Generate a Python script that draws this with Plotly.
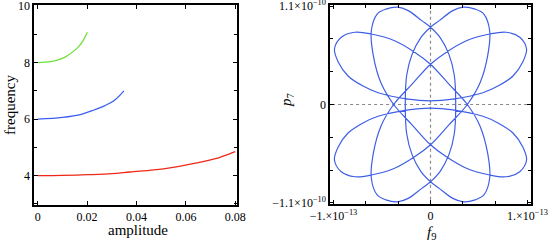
import plotly.graph_objects as go

# ---------------- data: left panel (frequency vs amplitude) ----------------
green_amp = [0.0, 0.0053, 0.010, 0.012, 0.016, 0.018, 0.0201]
green_freq = [8.0, 8.03, 8.15, 8.24, 8.51, 8.72, 9.07]

blue_amp = [0.0, 0.010, 0.018, 0.0221, 0.027, 0.031, 0.0349]
blue_freq = [6.0, 6.06, 6.18, 6.30, 6.47, 6.66, 7.0]

red_amp = [0.0, 0.010, 0.020, 0.030, 0.0374, 0.0509, 0.0644, 0.0720, 0.0779, 0.0800]
red_freq = [4.0, 4.01, 4.035, 4.07, 4.13, 4.24, 4.45, 4.60, 4.78, 4.85]

amp_ticks = [0, 0.02, 0.04, 0.06, 0.08]
amp_labels = ["0", "0.02", "0.04", "0.06", "0.08"]
freq_ticks = [4, 6, 8, 10]
freq_labels = ["4", "6", "8", "10"]
freq_minor = [3, 5, 7, 9]

# ---------------- data: right panel (f9 vs p7), in units of X_UNIT / Y_UNIT ----
X_UNIT = 1e-13
Y_UNIT = 1.1e-10
f9_u = [
    -0.99, -0.95, -0.85, -0.70, -0.54, -0.23, 0.0, 0.23, 0.54, 0.70, 0.85, 0.95, 0.99,
    0.92, 0.78, 0.61, 0.37, 0.16, 0.0, -0.19, -0.38, -0.51, -0.59, -0.61, -0.55, -0.46, -0.34,
    -0.23, -0.09, 0.0, 0.10, 0.19, 0.245, 0.26, 0.245, 0.19, 0.10, 0.0, -0.09, -0.23, -0.34,
    -0.46, -0.55, -0.61, -0.59, -0.51, -0.38, -0.19, 0.0, 0.16, 0.37, 0.61, 0.78, 0.92, 0.99,
    0.95, 0.85, 0.70, 0.54, 0.23, 0.0, -0.23, -0.54, -0.70, -0.85, -0.95, -0.99,
    -0.92, -0.78, -0.61, -0.37, -0.16, 0.0, 0.19, 0.38, 0.51, 0.59, 0.61, 0.55, 0.46, 0.34,
    0.23, 0.09, 0.0, -0.10, -0.19, -0.245, -0.26, -0.245, -0.19, -0.10, 0.0, 0.09, 0.23, 0.34,
    0.46, 0.55, 0.61, 0.59, 0.51, 0.38, 0.19, 0.0, -0.16, -0.37, -0.61, -0.78, -0.92, -0.99,
]
p7_v = [
    0.565, 0.43, 0.29, 0.19, 0.12, 0.054, 0.037, 0.054, 0.12, 0.19, 0.29, 0.43, 0.565,
    0.684, 0.735, 0.717, 0.649, 0.53, 0.41, 0.207, 0.0, -0.218, -0.5, -0.75, -0.92, -0.97, -0.99,
    -0.955, -0.853, -0.786, -0.68, -0.51, -0.3, 0.0, 0.3, 0.51, 0.68, 0.786, 0.853, 0.955, 0.99,
    0.97, 0.92, 0.75, 0.5, 0.218, 0.0, -0.207, -0.41, -0.53, -0.649, -0.717, -0.735, -0.684, -0.565,
    -0.43, -0.29, -0.19, -0.12, -0.054, -0.037, -0.054, -0.12, -0.19, -0.29, -0.43, -0.565,
    -0.684, -0.735, -0.717, -0.649, -0.53, -0.41, -0.207, 0.0, 0.218, 0.5, 0.75, 0.92, 0.97, 0.99,
    0.955, 0.853, 0.786, 0.68, 0.51, 0.3, 0.0, -0.3, -0.51, -0.68, -0.786, -0.853, -0.955, -0.99,
    -0.97, -0.92, -0.75, -0.5, -0.218, 0.0, 0.207, 0.41, 0.53, 0.649, 0.717, 0.735, 0.684, 0.565,
]
f9_ticks = [-1e-13, 0, 1e-13]
f9_labels = ["\u22121.\u00d710<sup>\u221213</sup>", "0", "1.\u00d710<sup>\u221213</sup>"]
f9_minor = [-6.667e-14, -3.333e-14, 3.333e-14, 6.667e-14]
p7_ticks = [-1.1e-10, 0, 1.1e-10]
p7_labels = ["\u22121.1\u00d710<sup>\u221210</sup>", "0", "1.1\u00d710<sup>\u221210</sup>"]
p7_minor = [-7.333e-11, -3.667e-11, 3.667e-11, 7.333e-11]

f9 = [u * X_UNIT for u in f9_u]
p7 = [v * Y_UNIT for v in p7_v]

FONT = "Liberation Serif"
W, H = 553, 244
fig = go.Figure()

fig.add_trace(go.Scatter(x=green_amp, y=green_freq, mode="lines", line=dict(color="#6fe03a", width=1.3, shape="spline"), xaxis="x", yaxis="y"))
fig.add_trace(go.Scatter(x=blue_amp, y=blue_freq, mode="lines", line=dict(color="#3a5ef0", width=1.3, shape="spline"), xaxis="x", yaxis="y"))
fig.add_trace(go.Scatter(x=red_amp, y=red_freq, mode="lines", line=dict(color="#f02818", width=1.3, shape="spline"), xaxis="x", yaxis="y"))

# dashed axes in right panel
fig.add_trace(go.Scatter(x=[0, 0], y=[-1.2e-10, 1.2e-10], mode="lines", line=dict(color="#8a8a8a", width=1.2, dash="3px,3px"), xaxis="x2", yaxis="y2"))
fig.add_trace(go.Scatter(x=[-1.2e-13, 1.2e-13], y=[0, 0], mode="lines", line=dict(color="#8a8a8a", width=1.2, dash="3px,3px"), xaxis="x2", yaxis="y2"))
fig.add_trace(go.Scatter(x=f9, y=p7, mode="lines", line=dict(color="#3f5ee6", width=1.2, shape="spline", smoothing=1.0), xaxis="x2", yaxis="y2"))

axis_common = dict(showline=True, linecolor="black", linewidth=1.6, mirror="ticks", ticks="inside",
                   ticklen=4, tickwidth=1, tickcolor="black", showgrid=False, zeroline=False,
                   automargin=False, ticklabeloverflow="allow",
                   tickfont=dict(family=FONT, size=12, color="black"))

fig.update_layout(
    width=W, height=H, margin=dict(l=0, r=0, t=0, b=0, autoexpand=False),
    paper_bgcolor="white", plot_bgcolor="white", showlegend=False,
    xaxis=dict(domain=[34 / W, 237 / W], range=[-0.0015, 0.0807], tickmode="array", tickvals=amp_ticks, ticktext=amp_labels, anchor="y", **axis_common),
    yaxis=dict(domain=[1 - 205 / H, 1 - 5 / H], range=[2.964, 10.035], tickmode="array", tickvals=freq_ticks, ticktext=freq_labels, anchor="x",
               minor=dict(tickmode="array", tickvals=freq_minor, ticks="inside", ticklen=3, tickcolor="black"), **axis_common),
    xaxis2=dict(domain=[330 / W, 531 / W], range=[-1.036e-13, 1.036e-13], tickmode="array", tickvals=f9_ticks, ticktext=f9_labels, anchor="y2",
                minor=dict(tickmode="array", tickvals=f9_minor, ticks="inside", ticklen=3, tickcolor="black"), **axis_common),
    yaxis2=dict(domain=[1 - 204 / H, 1 - 5 / H], range=[-1.012 * 1.1e-10, 1.012 * 1.1e-10], tickmode="array", tickvals=p7_ticks, ticktext=p7_labels, anchor="x2",
                minor=dict(tickmode="array", tickvals=p7_minor, ticks="inside", ticklen=3, tickcolor="black"), **axis_common),
)

ann_font = dict(family=FONT, size=15, color="black")
labels = [
    ("amplitude", 138, 230, 0),
    ("frequency", 10, 105, -90),
    ("<i>f</i><sub>9</sub>", 431, 233, 0),
    ("<i>p</i><sub>7</sub>", 287, 100, -90),
]
for text, px, py, ang in labels:
    fig.add_annotation(text=text, x=px / W, y=1 - py / H, xref="paper", yref="paper", showarrow=False,
                       font=ann_font, textangle=ang, xanchor="center", yanchor="middle")

fig.write_html("out.html", config={"displayModeBar": False, "staticPlot": True},
               post_script="document.body.style.margin='0';document.body.style.overflow='hidden';")
